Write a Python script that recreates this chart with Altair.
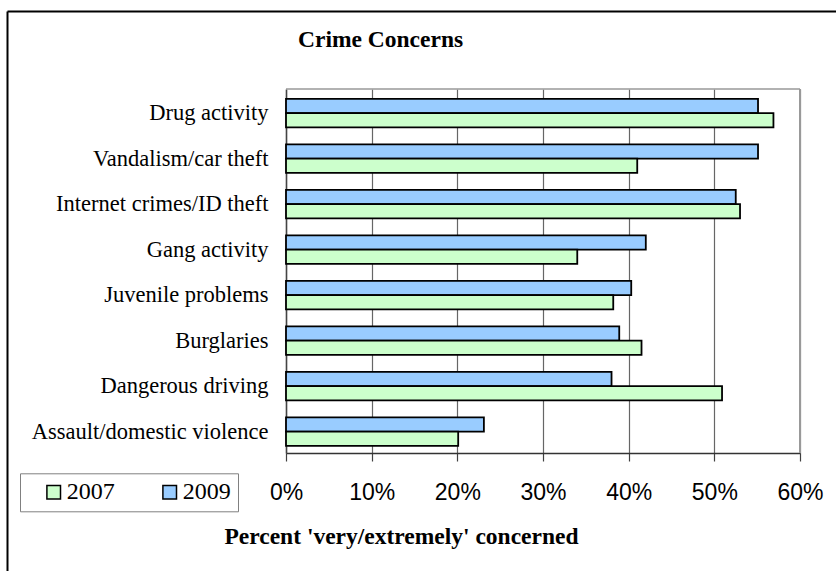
import altair as alt
import pandas as pd

# Survey categories (top to bottom) and share of respondents concerned, in percent
categories = [
    "Drug activity",
    "Vandalism/car theft",
    "Internet crimes/ID theft",
    "Gang activity",
    "Juvenile problems",
    "Burglaries",
    "Dangerous driving",
    "Assault/domestic violence",
]
values_2009 = [55.1, 55.1, 52.5, 42.0, 40.3, 38.9, 38.0, 23.1]
values_2007 = [56.9, 41.0, 53.0, 34.0, 38.2, 41.5, 50.9, 20.1]
years = ["2007", "2009"]
year_colors = ["#CCFFCC", "#99CCFF"]
x_ticks = [0, 10, 20, 30, 40, 50, 60]
chart_title = "Crime Concerns"
x_title = "Percent 'very/extremely' concerned"

rows = []
for cat, v07, v09 in zip(categories, values_2007, values_2009):
    rows.append({"category": cat, "year": "2009", "pct": v09})
    rows.append({"category": cat, "year": "2007", "pct": v07})
df = pd.DataFrame(rows)

W, H = 514, 364
SERIF = "Liberation Serif"
SANS = "Liberation Sans"

bars = (
    alt.Chart(df)
    .mark_bar(stroke="black", strokeWidth=1.8, opacity=1)
    .encode(
        x=alt.X(
            "pct:Q",
            scale=alt.Scale(domain=[0, 60], nice=False, zero=True),
            axis=alt.Axis(
                values=x_ticks,
                labelExpr="datum.value + '%'",
                title=x_title,
                titleFont=SERIF,
                titleFontSize=23.5,
                titleFontWeight="bold",
                titleColor="black",
                titleX=115,
                titleY=90,
                titleAlign="center",
                titleBaseline="alphabetic",
                labelFont=SANS,
                labelFontSize=23,
                labelColor="black",
                labelPadding=20,
                labelFlush=False,
                labelOverlap=False,
                tickSize=8,
                tickColor="#404040",
                tickWidth=1.2,
                domainColor="#333333",
                domainWidth=1.5,
                grid=True,
                gridColor="#666666",
                gridWidth=1.2,
            ),
        ),
        y=alt.Y(
            "category:N",
            sort=categories,
            scale=alt.Scale(paddingInner=0.376, paddingOuter=0.188, align=0.58),
            axis=alt.Axis(
                title=None,
                labelFont=SERIF,
                labelFontSize=22.5,
                labelColor="black",
                labelPadding=18,
                labelLimit=320,
                ticks=False,
                tickSize=0,
                domainColor="#444444",
                domainWidth=1.5,
                grid=False,
            ),
        ),
        yOffset=alt.YOffset(
            "year:N",
            sort=["2009", "2007"],
            scale=alt.Scale(paddingInner=0, paddingOuter=0),
        ),
        color=alt.Color(
            "year:N",
            scale=alt.Scale(domain=years, range=year_colors),
            legend=alt.Legend(
                title=None,
                orient="none",
                legendX=-266,
                legendY=384.3,
                direction="horizontal",
                columns=2,
                padding=7,
                strokeColor="#808080",
                fillColor="white",
                symbolType="square",
                symbolSize=185,
                symbolStrokeColor="black",
                symbolStrokeWidth=1.5,
                symbolOpacity=1,
                symbolOffset=14.7,
                labelOffset=1,
                labelFont=SERIF,
                labelFontSize=24,
                labelColor="black",
                columnPadding=28,
            ),
        ),
    )
)

one = pd.DataFrame({"k": [0]})

# chart heading, placed above the plot area
heading = alt.Chart(one).mark_text(
    font=SERIF, fontSize=23.5, fontWeight="bold", color="black",
    align="left", baseline="alphabetic",
).encode(x=alt.value(12), y=alt.value(-42.3), text=alt.value(chart_title))

# plot-area border on the top and right sides
top_border = alt.Chart(one).mark_rule(color="#999999", strokeWidth=1.5).encode(
    x=alt.value(0), x2=alt.value(W), y=alt.value(0)
)
right_border = alt.Chart(one).mark_rule(color="#999999", strokeWidth=2).encode(
    x=alt.value(W), y=alt.value(0), y2=alt.value(H)
)
# outer chart frame (left and top edges)
frame_left = alt.Chart(one).mark_rule(color="black", strokeWidth=2).encode(
    x=alt.value(-278.5), y=alt.value(-77.5), y2=alt.value(H + 130)
)
frame_top = alt.Chart(one).mark_rule(color="black", strokeWidth=2).encode(
    x=alt.value(-278.5), x2=alt.value(W + 60), y=alt.value(-77.5)
)

chart = (
    alt.layer(bars, heading, top_border, right_border, frame_left, frame_top)
    .properties(
        width=W,
        height=H,
        autosize=alt.AutoSizeParams(type="none"),
        padding={"left": 286, "top": 89, "right": 36, "bottom": 118},
        background="white",
    )
    .configure_view(stroke=None)
)

chart.save("out.html", embed_options={"renderer": "svg", "actions": False})
